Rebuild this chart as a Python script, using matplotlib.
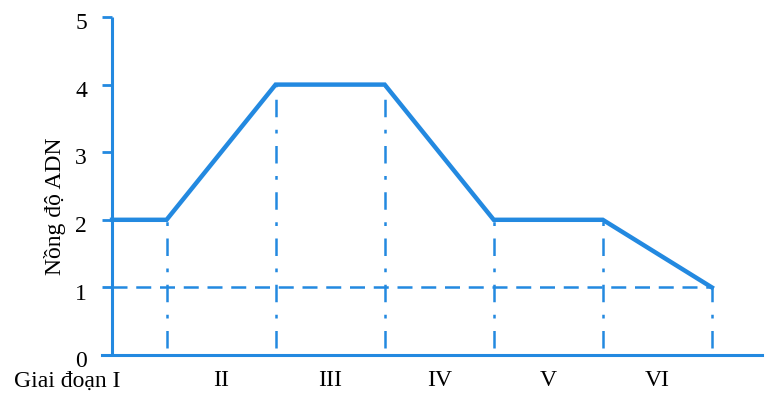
import matplotlib
matplotlib.use("Agg")
import matplotlib.pyplot as plt
from matplotlib.transforms import ScaledTranslation, blended_transform_factory

# Data
x_points = [0, 0.5, 1.5, 2.5, 3.5, 4.5, 5.5]
y_points = [2, 2, 4, 4, 2, 2, 1]
stage_labels = ["Giai đoạn I", "II", "III", "IV", "V", "VI"]
stage_pos = [-0.41, 1.0, 2.0, 3.0, 4.0, 5.0]
y_ticks = [0, 1, 2, 3, 4, 5]
y_label = "Nồng độ ADN"
ref_level = 1

color = "#2389e0"
plt.rcParams['font.family'] = ['Liberation Serif', 'DejaVu Serif']

fig = plt.figure(figsize=(7.74, 4.0), dpi=100)
ax = fig.add_axes([102/774, 1-355/400, (762-102)/774, (355-17)/400])
ax.set_xlim(-0.092, 5.96)
ax.set_ylim(0, 5)

# main curve
ax.plot(x_points, y_points, color=color, lw=3.2, solid_joinstyle='miter', zorder=3, clip_on=False)

# vertical dash-dot lines
for xv, yv in zip(x_points[1:], y_points[1:]):
    ax.plot([xv, xv], [0.1, yv], color=color, lw=1.8, dashes=(7, 5, 1.5, 5), zorder=2)

# horizontal dashed line at reference level
ax.plot([0, x_points[-1]], [ref_level, ref_level], color=color, lw=1.8, dashes=(6, 3.5), zorder=2)

# spines
for s in ['top', 'right']:
    ax.spines[s].set_visible(False)
ax.spines['left'].set_position(('data', 0))
ax.spines['left'].set_color(color)
ax.spines['bottom'].set_color(color)
ax.spines['left'].set_linewidth(2.2)
ax.spines['bottom'].set_linewidth(2.2)
ax.spines['left'].set_capstyle('butt')

ax.set_yticks(y_ticks)
ax.set_yticklabels([str(t) for t in y_ticks], fontsize=17)
ax.tick_params(axis='y', direction='out', length=7, width=2, color=color, pad=11)
ax.set_xticks([])
offset = ScaledTranslation(0, -3/72, fig.dpi_scale_trans)
for lab in ax.get_yticklabels():
    lab.set_transform(lab.get_transform() + offset)

ax.set_ylabel(y_label, fontsize=17)
ax.yaxis.set_label_coords(-0.055, 0.44)

trans = blended_transform_factory(ax.transData, fig.transFigure)
for lab, xp in zip(stage_labels, stage_pos):
    ax.text(xp, 1-381/400, lab, transform=trans, ha='center', va='center', fontsize=17)

fig.savefig("out.png", dpi=100)
